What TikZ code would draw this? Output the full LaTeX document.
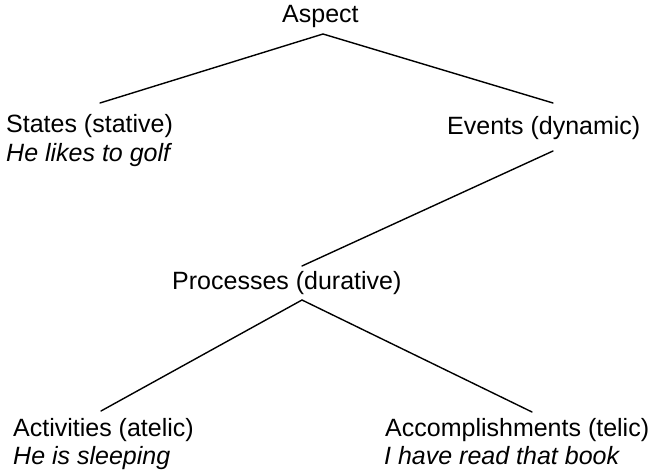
\documentclass[tikz,border=0pt]{standalone}
\usepackage{fontspec}
\setmainfont{Liberation Sans}
\begin{document}
\begin{tikzpicture}[x=1pt,y=-1pt,
  lbl/.style={anchor=base west,inner sep=0pt,font=\fontsize{25}{29}\selectfont},
  ex/.style={lbl,font=\fontsize{25}{29}\selectfont\itshape},
  edge/.style={line width=1.4pt,line cap=round}]
\useasboundingbox (0,0) rectangle (654,476);
\node[lbl] (aspect) at (282,23) {Aspect};
\node[lbl] (states) at (6,133) {States (stative)};
\node[ex] (statesex) at (6,162) {He likes to golf};
\node[lbl] (events) at (447,135) {Events (dynamic)};
\node[lbl] (processes) at (172,290) {Processes (durative)};
\node[lbl] (activities) at (13,436) {Activities (atelic)};
\node[ex] (activitiesex) at (13,464) {He is sleeping};
\node[lbl] (accomp) at (385,436) {Accomplishments (telic)};
\node[ex] (accompex) at (384,464) {I have read that book};
\coordinate (aspectB) at (323,34);
\coordinate (statesT) at (100,103);
\coordinate (eventsT) at (553,103);
\coordinate (eventsB) at (553,151);
\coordinate (procT) at (302,266);
\coordinate (procB) at (302,300);
\coordinate (actT) at (101,411);
\coordinate (accT) at (532,412);
\draw[edge] (statesT) -- (aspectB) -- (eventsT);
\draw[edge] (eventsB) -- (procT);
\draw[edge] (actT) -- (procB) -- (accT);
\end{tikzpicture}
\end{document}
